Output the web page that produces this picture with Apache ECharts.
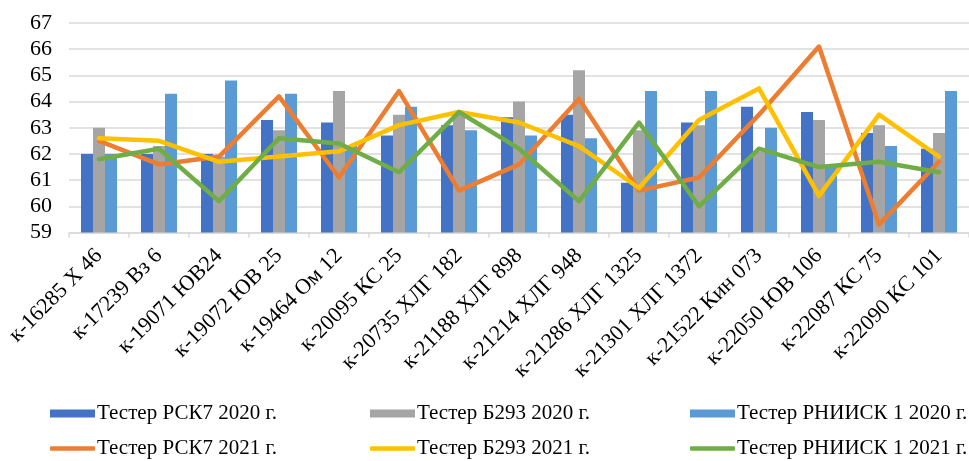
<!DOCTYPE html>
<html>
<head>
<meta charset="utf-8">
<script src="https://cdn.jsdelivr.net/npm/echarts@6/dist/echarts.min.js"></script>
<style>
  html, body { margin: 0; padding: 0; background: #fff; }
  #chart { width: 969px; height: 461px; }
</style>
</head>
<body>
<div id="chart"></div>
<script>
// Varieties (accessions) tested
const categories = [
  'к-16285 Х 46', 'к-17239 Вз 6', 'к-19071 ЮВ24', 'к-19072 ЮВ 25', 'к-19464 Ом 12',
  'к-20095 КС 25', 'к-20735 ХЛГ 182', 'к-21188 ХЛГ 898', 'к-21214 ХЛГ 948', 'к-21286 ХЛГ 1325',
  'к-21301 ХЛГ 1372', 'к-21522 Кин 073', 'к-22050 ЮВ 106', 'к-22087 КС 75', 'к-22090 КС 101'
];

// 2020 (bars)
const rsk7_2020   = [62.0, 62.0, 62.0, 63.3, 63.2, 62.7, 63.1, 63.4, 63.5, 60.9, 63.2, 63.8, 63.6, 62.8, 62.2];
const b293_2020   = [63.0, 62.3, 61.9, 62.9, 64.4, 63.5, 63.5, 64.0, 65.2, 62.9, 63.1, 62.1, 63.3, 63.1, 62.8];
const rniisk_2020 = [62.0, 64.3, 64.8, 64.3, 62.3, 63.8, 62.9, 62.7, 62.6, 64.4, 64.4, 63.0, 61.5, 62.3, 64.4];

// 2021 (lines)
const rsk7_2021   = [62.5, 61.6, 61.9, 64.2, 61.1, 64.4, 60.6, 61.6, 64.1, 60.6, 61.1, 63.5, 66.1, 59.3, 61.7];
const b293_2021   = [62.6, 62.5, 61.7, 61.9, 62.1, 63.1, 63.6, 63.2, 62.3, 60.7, 63.3, 64.5, 60.4, 63.5, 61.9];
const rniisk_2021 = [61.8, 62.2, 60.2, 62.6, 62.4, 61.3, 63.6, 62.2, 60.2, 63.2, 60.0, 62.2, 61.5, 61.7, 61.3];

const yMin = 59, yMax = 67, yStep = 1;

const names = [
  'Тестер РСК7 2020 г.', 'Тестер Б293 2020 г.', 'Тестер РНИИСК 1 2020 г.',
  'Тестер РСК7 2021 г.', 'Тестер Б293 2021 г.', 'Тестер РНИИСК 1 2021 г.'
];
const colors = ['#4472C4', '#A5A5A5', '#5B9BD5', '#ED7D31', '#FFC000', '#70AD47'];

const font = '"Liberation Serif", "Times New Roman", serif';

function barSeries(i, data) {
  return {
    name: names[i], type: 'bar', data: data,
    barGap: '0%', barCategoryGap: '40%',
    itemStyle: { color: colors[i] }
  };
}
function lineSeries(i, data) {
  return {
    name: names[i], type: 'line', data: data,
    symbol: 'none', smooth: false,
    lineStyle: { color: colors[i], width: 4.5, cap: 'round', join: 'round' },
    itemStyle: { color: colors[i] }
  };
}

// one legend per entry so the three columns line up
const legendCols = [50, 370, 690];
const legendRows = [403, 438];
const legends = names.map((n, i) => ({
  data: [n],
  left: legendCols[i % 3],
  top: legendRows[Math.floor(i / 3)],
  padding: 0,
  itemWidth: 45,
  itemHeight: i < 3 ? 8 : 4.5,
  icon: i < 3 ? 'rect' : 'roundRect',
  itemGap: 2,
  selectedMode: false,
  textStyle: { fontFamily: font, fontSize: 21, color: '#000', padding: [0, 0, 0, -3] }
}));

const chart = echarts.init(document.getElementById('chart'), null, { renderer: 'canvas' });
chart.setOption({
  animation: false,
  backgroundColor: '#fff',
  grid: { left: 69, top: 23, width: 909, height: 209.5, containLabel: false },
  legend: legends,
  xAxis: {
    type: 'category',
    data: categories,
    axisLine: { show: true, lineStyle: { color: '#D9D9D9', width: 1.5 } },
    axisTick: { show: true, length: 5, lineStyle: { color: '#D9D9D9', width: 1.5 } },
    axisLabel: {
      interval: 0, rotate: 45, margin: 20,
      fontFamily: font, fontSize: 22, color: '#000'
    }
  },
  yAxis: {
    type: 'value',
    min: yMin, max: yMax, interval: yStep,
    axisLine: { show: false },
    axisTick: { show: false },
    splitLine: { lineStyle: { color: '#D9D9D9', width: 1.5 } },
    axisLabel: { fontFamily: font, fontSize: 22, color: '#000', margin: 17 }
  },
  series: [
    barSeries(0, rsk7_2020),
    barSeries(1, b293_2020),
    barSeries(2, rniisk_2020),
    lineSeries(3, rsk7_2021),
    lineSeries(4, b293_2021),
    lineSeries(5, rniisk_2021)
  ]
});
</script>
</body>
</html>
